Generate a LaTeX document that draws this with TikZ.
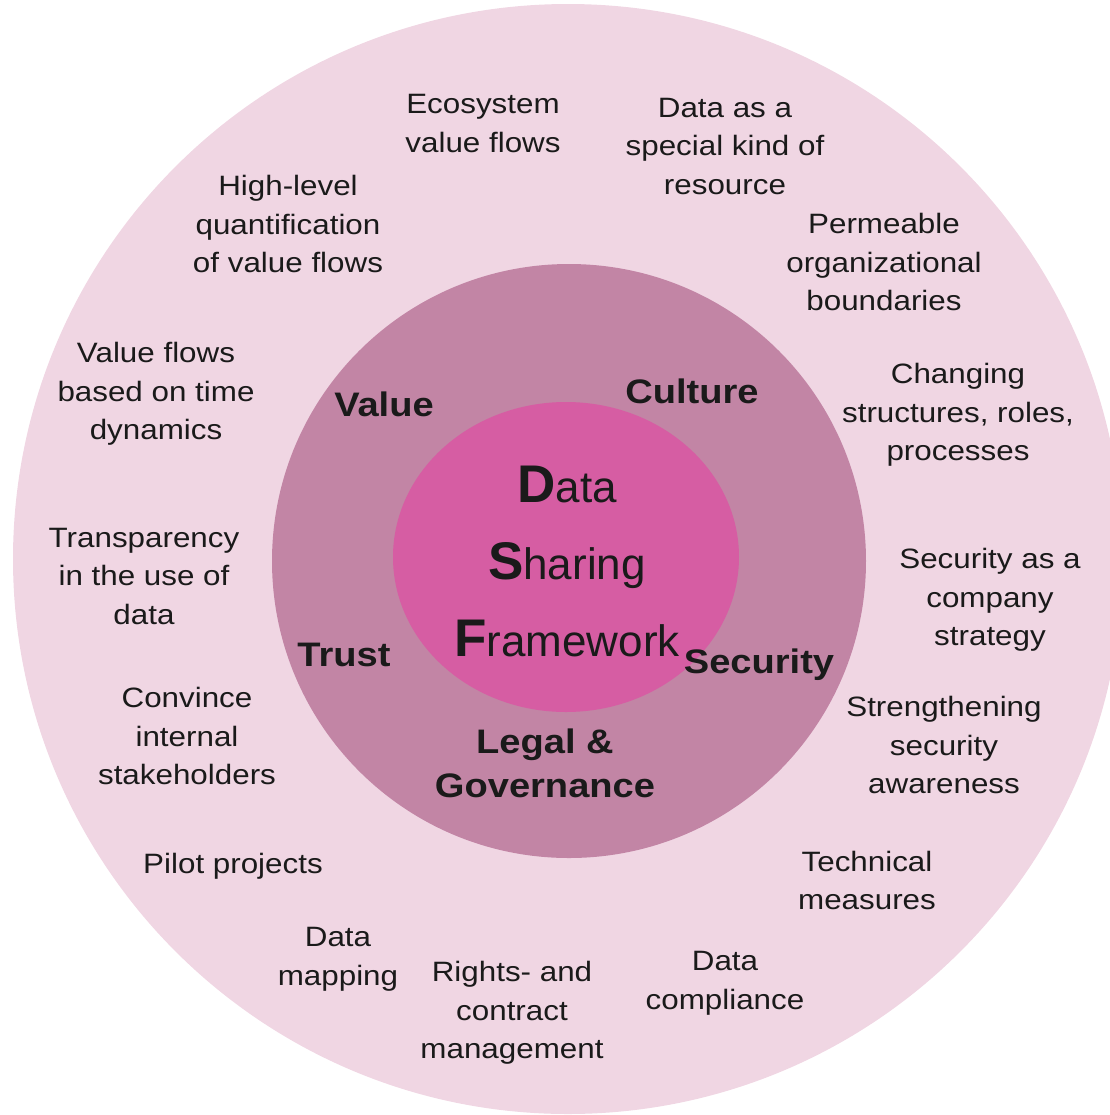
\documentclass[tikz,border=0pt]{standalone}
\usepackage{fontspec}
\setmainfont{Liberation Sans}[FakeStretch=1.12]
\newfontfamily\dsffont{Liberation Sans}
\definecolor{outerring}{HTML}{F0D6E3}
\definecolor{midring}{HTML}{C285A5}
\definecolor{core}{HTML}{D65DA3}
\definecolor{ink}{HTML}{1A1A1A}
\tikzset{
  ringlabel/.style={align=center, text=ink, inner sep=0pt,
    font=\fontsize{14bp}{19.25bp}\selectfont,
    execute at begin node=\strut, execute at end node=\strut},
  pillar/.style={align=center, text=ink, inner sep=0pt,
    font=\bfseries\fontsize{17bp}{22bp}\selectfont,
    execute at begin node=\strut, execute at end node=\strut},
  corelabel/.style={align=center, text=ink, inner sep=0pt,
    font=\dsffont\fontsize{22bp}{38.5bp}\selectfont,
    execute at begin node=\strut, execute at end node=\strut}
}
\newcommand{\capletter}[1]{{\bfseries\fontsize{26.5bp}{38.5bp}\selectfont #1}}
\begin{document}
\begin{tikzpicture}[x=0.5bp,y=-0.5bp]
\useasboundingbox (0,0) rectangle (1110,1115);
\begin{scope}
\clip (0,0) rectangle (1110,1115);
\fill[outerring] (568,559) circle[radius=555];
\fill[midring] (569,561) circle[radius=297];
\fill[core] (566,557) ellipse[x radius=173, y radius=155];
\end{scope}

% core
\node[corelabel] (dsf) at (567,573) {\capletter{D}ata\\\capletter{S}haring\\\capletter{F}ramework};

% pillars
\node[pillar] (value) at (384,408) {Value};
\node[pillar] (culture) at (692,395) {Culture};
\node[pillar] (trust) at (344,658) {Trust};
\node[pillar] (security) at (759,665) {Security};
\node[pillar] (legal) at (545,770) {Legal \&\\Governance};

% outer ring
\node[ringlabel] (eco) at (483,129) {Ecosystem\\value flows};
\node[ringlabel] (resource) at (725,152) {Data as a\\special kind of\\resource};
\node[ringlabel] (quant) at (288,230) {High-level\\quantification\\of value flows};
\node[ringlabel] (perm) at (884,268) {Permeable\\organizational\\boundaries};
\node[ringlabel] (time) at (156,397) {Value flows\\based on time\\dynamics};
\node[ringlabel] (struct) at (958,418) {Changing\\structures, roles,\\processes};
\node[ringlabel] (transp) at (144,582) {Transparency\\in the use of\\data};
\node[ringlabel] (strat) at (990,603) {Security as a\\company\\strategy};
\node[ringlabel] (convince) at (187,742) {Convince\\internal\\stakeholders};
\node[ringlabel] (aware) at (944,751) {Strengthening\\security\\awareness};
\node[ringlabel] (pilot) at (233,866) {Pilot projects};
\node[ringlabel] (tech) at (867,886) {Technical\\measures};
\node[ringlabel] (mapping) at (338,962) {Data\\mapping};
\node[ringlabel] (rights) at (512,1016) {Rights- and\\contract\\management};
\node[ringlabel] (compl) at (725,986) {Data\\compliance};
\end{tikzpicture}
\end{document}
